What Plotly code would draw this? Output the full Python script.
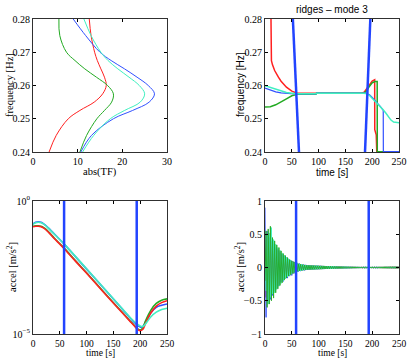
import plotly.graph_objects as go

# ---------------- data ----------------
# top-left: |TF| vs frequency
tf_freq = [0.24, 0.245, 0.25, 0.2525, 0.255, 0.2575, 0.26, 0.2625, 0.265, 0.2675, 0.27, 0.275, 0.28]
tf_blue = [10.7, 13.1, 18.0, 22.3, 26.0, 27.2, 25.8, 23.3, 20.5, 17.5, 15.0, 11.8, 9.0]
tf_cyan = [11.1, 13.6, 17.3, 20.5, 24.0, 25.0, 23.8, 21.5, 19.0, 16.8, 15.2, 13.0, 11.4]
tf_green = [10.5, 12.0, 14.3, 16.0, 17.6, 18.0, 16.7, 14.2, 11.6, 9.4, 7.5, 6.0, 5.8]
tf_red = [3.6, 5.2, 7.9, 10.5, 13.7, 15.6, 16.4, 16.0, 15.2, 14.4, 13.8, 13.0, 12.6]

# top-right: ridges
rd_red_t = [10.5, 11, 12, 14, 18, 25, 30, 40, 50, 60, 100, 180, 185, 190, 195, 200, 204.6, 204.8, 207.5, 208.5, 250]
rd_red_f = [0.29, 0.2687, 0.2675, 0.2662, 0.2645, 0.2625, 0.2613, 0.2595, 0.2583, 0.2577, 0.2577, 0.2577, 0.2580, 0.2590, 0.2603, 0.2613, 0.2617, 0.2467, 0.2452, 0.2401, 0.2401]
rd_green_t = [0, 10, 20, 30, 40, 50, 62, 95, 96, 185, 190, 195, 200, 205, 209.3, 209.5, 250]
rd_green_f = [0.2535, 0.2536, 0.2542, 0.2550, 0.2560, 0.2569, 0.2574, 0.2574, 0.2577, 0.2577, 0.2585, 0.2598, 0.2608, 0.2612, 0.2612, 0.2401, 0.2401]
rd_blue_t = [0, 10, 20, 30, 40, 55, 95, 96, 188, 195, 200, 205, 210, 215, 220.6, 220.8, 250]
rd_blue_f = [0.2592, 0.2586, 0.2581, 0.2578, 0.2576, 0.2575, 0.2575, 0.2577, 0.2577, 0.2572, 0.2564, 0.2556, 0.2547, 0.2537, 0.2525, 0.2401, 0.2401]
rd_cyan_t = [0, 10, 20, 30, 40, 50, 60, 95, 96, 185, 190, 195, 200, 205, 210, 215, 220, 225, 230, 235, 240, 250]
rd_cyan_f = [0.2599, 0.2594, 0.2588, 0.2583, 0.2579, 0.2577, 0.2575, 0.2575, 0.2577, 0.2577, 0.2575, 0.2570, 0.2562, 0.2555, 0.2546, 0.2538, 0.2528, 0.2518, 0.2507, 0.2496, 0.2490, 0.2488]
cut_a_t = [51.7, 63.7]
cut_a_f = [0.281, 0.239]
cut_b_t = [186.35, 196.75]
cut_b_f = [0.239, 0.281]

# bottom-left: envelope (log)
env_t = [0, 5, 10, 15, 20, 25, 30, 40, 50, 60, 80, 100, 120, 140, 160, 180, 190, 195, 200, 205, 210, 220, 230, 240, 250]
env_red = [0.1072, 0.1122, 0.1122, 0.1072, 0.0955, 0.0794, 0.0631, 0.0380, 0.0240, 0.0148, 5.25e-3, 1.91e-3, 6.76e-4, 2.40e-4, 8.71e-5, 3.16e-5, 1.91e-5, 1.51e-5, 1.32e-5, 1.51e-5, 2.51e-5, 6.31e-5, 1.12e-4, 1.51e-4, 1.78e-4]
env_green = [0.112, 0.117, 0.117, 0.112, 0.100, 0.0832, 0.0661, 0.0398, 0.0251, 0.0155, 5.50e-3, 2.0e-3, 7.08e-4, 2.51e-4, 9.12e-5, 3.31e-5, 2.0e-5, 1.58e-5, 1.41e-5, 1.74e-5, 3.16e-5, 7.94e-5, 1.41e-4, 1.86e-4, 2.09e-4]
env_blue = [0.138, 0.158, 0.166, 0.158, 0.138, 0.115, 0.0912, 0.0575, 0.0355, 0.0219, 7.76e-3, 2.75e-3, 9.77e-4, 3.47e-4, 1.23e-4, 4.27e-5, 2.63e-5, 2.09e-5, 1.82e-5, 1.91e-5, 2.82e-5, 6.31e-5, 1.0e-4, 1.20e-4, 1.35e-4]
env_cyan = [0.1318, 0.1514, 0.1585, 0.1514, 0.1349, 0.1122, 0.0891, 0.0562, 0.0355, 0.0219, 7.94e-3, 2.82e-3, 1.0e-3, 3.55e-4, 1.26e-4, 4.47e-5, 2.82e-5, 2.34e-5, 2.0e-5, 1.91e-5, 2.40e-5, 4.47e-5, 6.61e-5, 8.32e-5, 9.33e-5]
cut_times = [58, 193.5]

# bottom-right: signals sampled every 2 s (t = 0 .. 250)
sig_t = list(range(0, 251, 2))
sig_blue = [0.90, -0.75, 0.55, -0.50, 0.45, -0.48, 0.40, -0.42, 0.36, -0.35, 0.30, -0.32, 0.27, -0.28, 0.24, -0.22, 0.20, -0.21, 0.18, -0.17,
            0.15, -0.16, 0.13, -0.13, 0.11, -0.12, 0.09, -0.09, 0.08, -0.08, 0.07, -0.065, 0.06, -0.055, 0.05, -0.048, 0.045, -0.043, 0.04, -0.038, 0.036,
            -0.035, 0.034, -0.033, 0.032, -0.031, 0.030, -0.029, 0.029, -0.028, 0.027,
            -0.026, 0.026, -0.025, 0.024, -0.024, 0.023, -0.022, 0.022, -0.021, 0.021,
            -0.020, 0.020, -0.019, 0.019, -0.018, 0.018, -0.017, 0.017, -0.016, 0.016,
            -0.015, 0.015, -0.015, 0.014, -0.014, 0.013, -0.013, 0.013, -0.012, 0.012,
            -0.012, 0.011, -0.011, 0.011, -0.010, 0.010, -0.010, 0.009, -0.009, 0.009,
            -0.009, 0.008, -0.008, 0.008, -0.008, 0.007, -0.007, 0.007, -0.007, 0.007,
            -0.007, 0.007, -0.008, 0.008, -0.008, 0.008, -0.009, 0.009, -0.009, 0.009,
            -0.009, 0.010, -0.010, 0.010, -0.010, 0.010, -0.010, 0.010, -0.011, 0.011,
            -0.011, 0.011, -0.011, 0.011, -0.011]
sig_red = [0.30, -0.45, 0.42, -0.38, 0.40, -0.36, 0.38, -0.34, 0.33, -0.30, 0.28, -0.27, 0.25, -0.24, 0.22, -0.21, 0.19, -0.18, 0.17, -0.16,
           0.14, -0.14, 0.12, -0.12, 0.10, -0.10, 0.09, -0.085, 0.075, -0.07, 0.065, -0.06, 0.055, -0.05, 0.047, -0.045, 0.042, -0.04, 0.038, -0.036, 0.034,
           -0.033, 0.032, -0.031, 0.030, -0.030, 0.029, -0.028, 0.027, -0.027, 0.026,
           -0.025, 0.025, -0.024, 0.023, -0.023, 0.022, -0.021, 0.021, -0.020, 0.020,
           -0.019, 0.019, -0.018, 0.018, -0.017, 0.017, -0.016, 0.016, -0.015, 0.015,
           -0.015, 0.014, -0.014, 0.013, -0.013, 0.013, -0.012, 0.012, -0.012, 0.011,
           -0.011, 0.011, -0.010, 0.010, -0.010, 0.009, -0.009, 0.009, -0.009, 0.008,
           -0.008, 0.008, -0.008, 0.007, -0.007, 0.007, -0.007, 0.007, -0.007, 0.007,
           -0.008, 0.008, -0.008, 0.009, -0.009, 0.009, -0.010, 0.010, -0.010, 0.010,
           -0.011, 0.011, -0.011, 0.011, -0.012, 0.012, -0.012, 0.012, -0.012, 0.012,
           -0.013, 0.013, -0.013, 0.013, -0.013]
sig_green = [-0.20, 0.55, -0.60, 0.58, -0.55, 0.62, -0.50, 0.45, -0.46, 0.40, -0.38, 0.34, -0.32, 0.30, -0.27, 0.25, -0.23, 0.21, -0.19, 0.18,
             -0.16, 0.15, -0.13, 0.12, -0.11, 0.10, -0.09, 0.085, -0.075, 0.07, -0.06, 0.057, -0.052, 0.05, -0.046, 0.044, -0.041, 0.039, -0.037, 0.035, -0.034,
             0.034, -0.033, 0.032, -0.031, 0.031, -0.030, 0.029, -0.028, 0.028, -0.027,
             0.026, -0.026, 0.025, -0.024, 0.024, -0.023, 0.022, -0.022, 0.021, -0.021,
             0.020, -0.020, 0.019, -0.019, 0.018, -0.018, 0.017, -0.017, 0.016, -0.016,
             0.016, -0.015, 0.015, -0.014, 0.014, -0.014, 0.013, -0.013, 0.012, -0.012,
             0.012, -0.011, 0.011, -0.011, 0.010, -0.010, 0.010, -0.010, 0.009, -0.009,
             0.009, -0.009, 0.008, -0.008, 0.008, -0.008, 0.008, -0.008, 0.008, -0.008,
             0.009, -0.009, 0.009, -0.010, 0.010, -0.010, 0.011, -0.011, 0.011, -0.012,
             0.012, -0.012, 0.013, -0.013, 0.013, -0.013, 0.014, -0.014, 0.014, -0.014,
             0.014, -0.015, 0.015, -0.015, 0.015]
sig_cyan = [0.10, -0.35, 0.50, -0.55, 0.52, -0.45, 0.60, -0.40, 0.42, -0.38, 0.35, -0.33, 0.30, -0.28, 0.26, -0.24, 0.22, -0.20, 0.18, -0.17,
            0.15, -0.14, 0.13, -0.12, 0.11, -0.10, 0.09, -0.08, 0.075, -0.07, 0.065, -0.06, 0.055, -0.05, 0.047, -0.044, 0.042, -0.04, 0.037, -0.035, 0.034,
            -0.033, 0.033, -0.032, 0.031, -0.030, 0.029, -0.029, 0.028, -0.027, 0.026,
            -0.026, 0.025, -0.024, 0.024, -0.023, 0.022, -0.022, 0.021, -0.021, 0.020,
            -0.020, 0.019, -0.019, 0.018, -0.018, 0.017, -0.017, 0.016, -0.016, 0.015,
            -0.015, 0.014, -0.014, 0.014, -0.013, 0.013, -0.012, 0.012, -0.012, 0.011,
            -0.011, 0.011, -0.010, 0.010, -0.010, 0.010, -0.009, 0.009, -0.009, 0.009,
            -0.008, 0.008, -0.008, 0.008, -0.008, 0.008, -0.008, 0.008, -0.008, 0.008,
            -0.008, 0.008, -0.008, 0.009, -0.009, 0.009, -0.009, 0.009, -0.009, 0.009,
            -0.010, 0.010, -0.010, 0.010, -0.010, 0.010, -0.010, 0.010, -0.010, 0.010,
            -0.010, 0.010, -0.010, 0.010, -0.010]

# ---------------- styling ----------------
RED = "#ff2020"
GREEN = "#22aa22"
BLUE = "#3050ff"
CYAN = "#40f0c0"
CUT = "#2244ff"
SERIF = "Liberation Serif"
SANS = "Liberation Sans"
W, H = 409, 358

fig = go.Figure()

def px_x(a, b):
    return [a / W, b / W]

def px_y(top, bottom):
    return [1 - bottom / H, 1 - top / H]

# top-left
for xs, col in [(tf_red, RED), (tf_green, GREEN), (tf_blue, BLUE), (tf_cyan, CYAN)]:
    fig.add_trace(go.Scatter(x=xs, y=tf_freq, mode="lines", line=dict(color=col, width=1, shape="spline"),
                             xaxis="x", yaxis="y", showlegend=False))
# top-right
for ts, fs, col, w in [(rd_red_t, rd_red_f, RED, 1.5), (rd_green_t, rd_green_f, GREEN, 1.5),
                       (rd_blue_t, rd_blue_f, BLUE, 1.2), (rd_cyan_t, rd_cyan_f, CYAN, 1.5),
                       (cut_a_t, cut_a_f, CUT, 2.5), (cut_b_t, cut_b_f, CUT, 2.5)]:
    fig.add_trace(go.Scatter(x=ts, y=fs, mode="lines", line=dict(color=col, width=w),
                             xaxis="x2", yaxis="y2", showlegend=False))
# bottom-left
for ys, col in [(env_blue, BLUE), (env_green, GREEN), (env_red, RED), (env_cyan, CYAN)]:
    fig.add_trace(go.Scatter(x=env_t, y=ys, mode="lines", line=dict(color=col, width=1.6, shape="spline"),
                             xaxis="x3", yaxis="y3", showlegend=False))
for ct in cut_times:
    fig.add_trace(go.Scatter(x=[ct, ct], y=[1e-6, 10], mode="lines", line=dict(color=CUT, width=2.5),
                             xaxis="x3", yaxis="y3", showlegend=False))
# bottom-right
for ys, col in [(sig_red, RED), (sig_blue, BLUE), (sig_cyan, CYAN), (sig_green, GREEN)]:
    fig.add_trace(go.Scatter(x=sig_t, y=ys, mode="lines", line=dict(color=col, width=0.9),
                             xaxis="x4", yaxis="y4", showlegend=False))
for ct in cut_times:
    fig.add_trace(go.Scatter(x=[ct, ct], y=[-1.2, 1.2], mode="lines", line=dict(color=CUT, width=2.5),
                             xaxis="x4", yaxis="y4", showlegend=False))

tickfont = dict(family=SERIF, size=10, color="black")
xtickfont_small = dict(family=SERIF, size=9.5, color="black")
axis_common = dict(showline=True, mirror="ticks", linecolor="#303030", linewidth=1.2,
                   ticks="inside", ticklen=3, tickcolor="black", showgrid=False, zeroline=False,
                   automargin=False)

fig.update_layout(
    width=W, height=H, margin=dict(l=0, r=0, t=0, b=0, pad=0), autosize=False,
    paper_bgcolor="white", plot_bgcolor="white",
    xaxis=dict(domain=px_x(33, 167), range=[0, 30], tickvals=[0, 10, 20, 30], anchor="y",
               tickfont=tickfont, **axis_common),
    yaxis=dict(domain=px_y(19, 152), range=[0.24, 0.28], tickvals=[0.24, 0.25, 0.26, 0.27, 0.28],
               ticktext=["0.24", "0.25", "0.26", "0.27", "0.28"], anchor="x", tickfont=tickfont, **axis_common),
    xaxis2=dict(domain=px_x(265, 399), range=[0, 250], tickvals=[0, 50, 100, 150, 200, 250], anchor="y2",
                tickfont=tickfont, **axis_common),
    yaxis2=dict(domain=px_y(19, 152), range=[0.24, 0.28], tickvals=[0.24, 0.25, 0.26, 0.27, 0.28],
                ticktext=["0.24", "0.25", "0.26", "0.27", "0.28"], anchor="x2", tickfont=tickfont, **axis_common),
    xaxis3=dict(domain=px_x(33, 167), range=[0, 250], tickvals=[0, 50, 100, 150, 200, 250], anchor="y3",
                tickfont=xtickfont_small, **axis_common),
    yaxis3=dict(domain=px_y(201, 334), type="log", range=[-5, 0], tickvals=[1e-5, 1],
                ticktext=["10<sup>−5</sup>", "10<sup>0</sup>"], anchor="x3", tickfont=tickfont, **axis_common),
    xaxis4=dict(domain=px_x(265, 399), range=[0, 250], tickvals=[0, 50, 100, 150, 200, 250], anchor="y4",
                tickfont=xtickfont_small, **axis_common),
    yaxis4=dict(domain=px_y(201, 334), range=[-1, 1], tickvals=[-1, -0.5, 0, 0.5, 1],
                ticktext=["−1", "−0.5", "0", "0.5", "1"], anchor="x4", tickfont=tickfont, **axis_common),
)

def ann(text, x, y, family, size=10.5, angle=0):
    fig.add_annotation(text=text, x=x / W, y=1 - y / H, xref="paper", yref="paper",
                       showarrow=False, textangle=angle, xanchor="center", yanchor="middle",
                       font=dict(family=family, size=size, color="black"))

ann("frequency [Hz]", 9, 85, SERIF, angle=-90)
ann("abs(TF)", 100, 172, SERIF)
ann("frequency [Hz]", 240, 85, SANS, size=10, angle=-90)
ann("time [s]", 332, 172, SANS, size=10)
ann("ridges – mode 3", 332, 9, SANS, size=10)
ann("accel [m/s<sup>2</sup>]", 11, 267, SERIF, angle=-90)
ann("time [s]", 100, 352.5, SERIF, size=9.5)
ann("accel [m/s<sup>2</sup>]", 239, 267, SERIF, angle=-90)
ann("time [s]", 332, 352.5, SERIF, size=9.5)

fig.write_html("out.html", config={"displayModeBar": False},
               post_script="document.body.style.margin='0';document.body.style.overflow='hidden';")
